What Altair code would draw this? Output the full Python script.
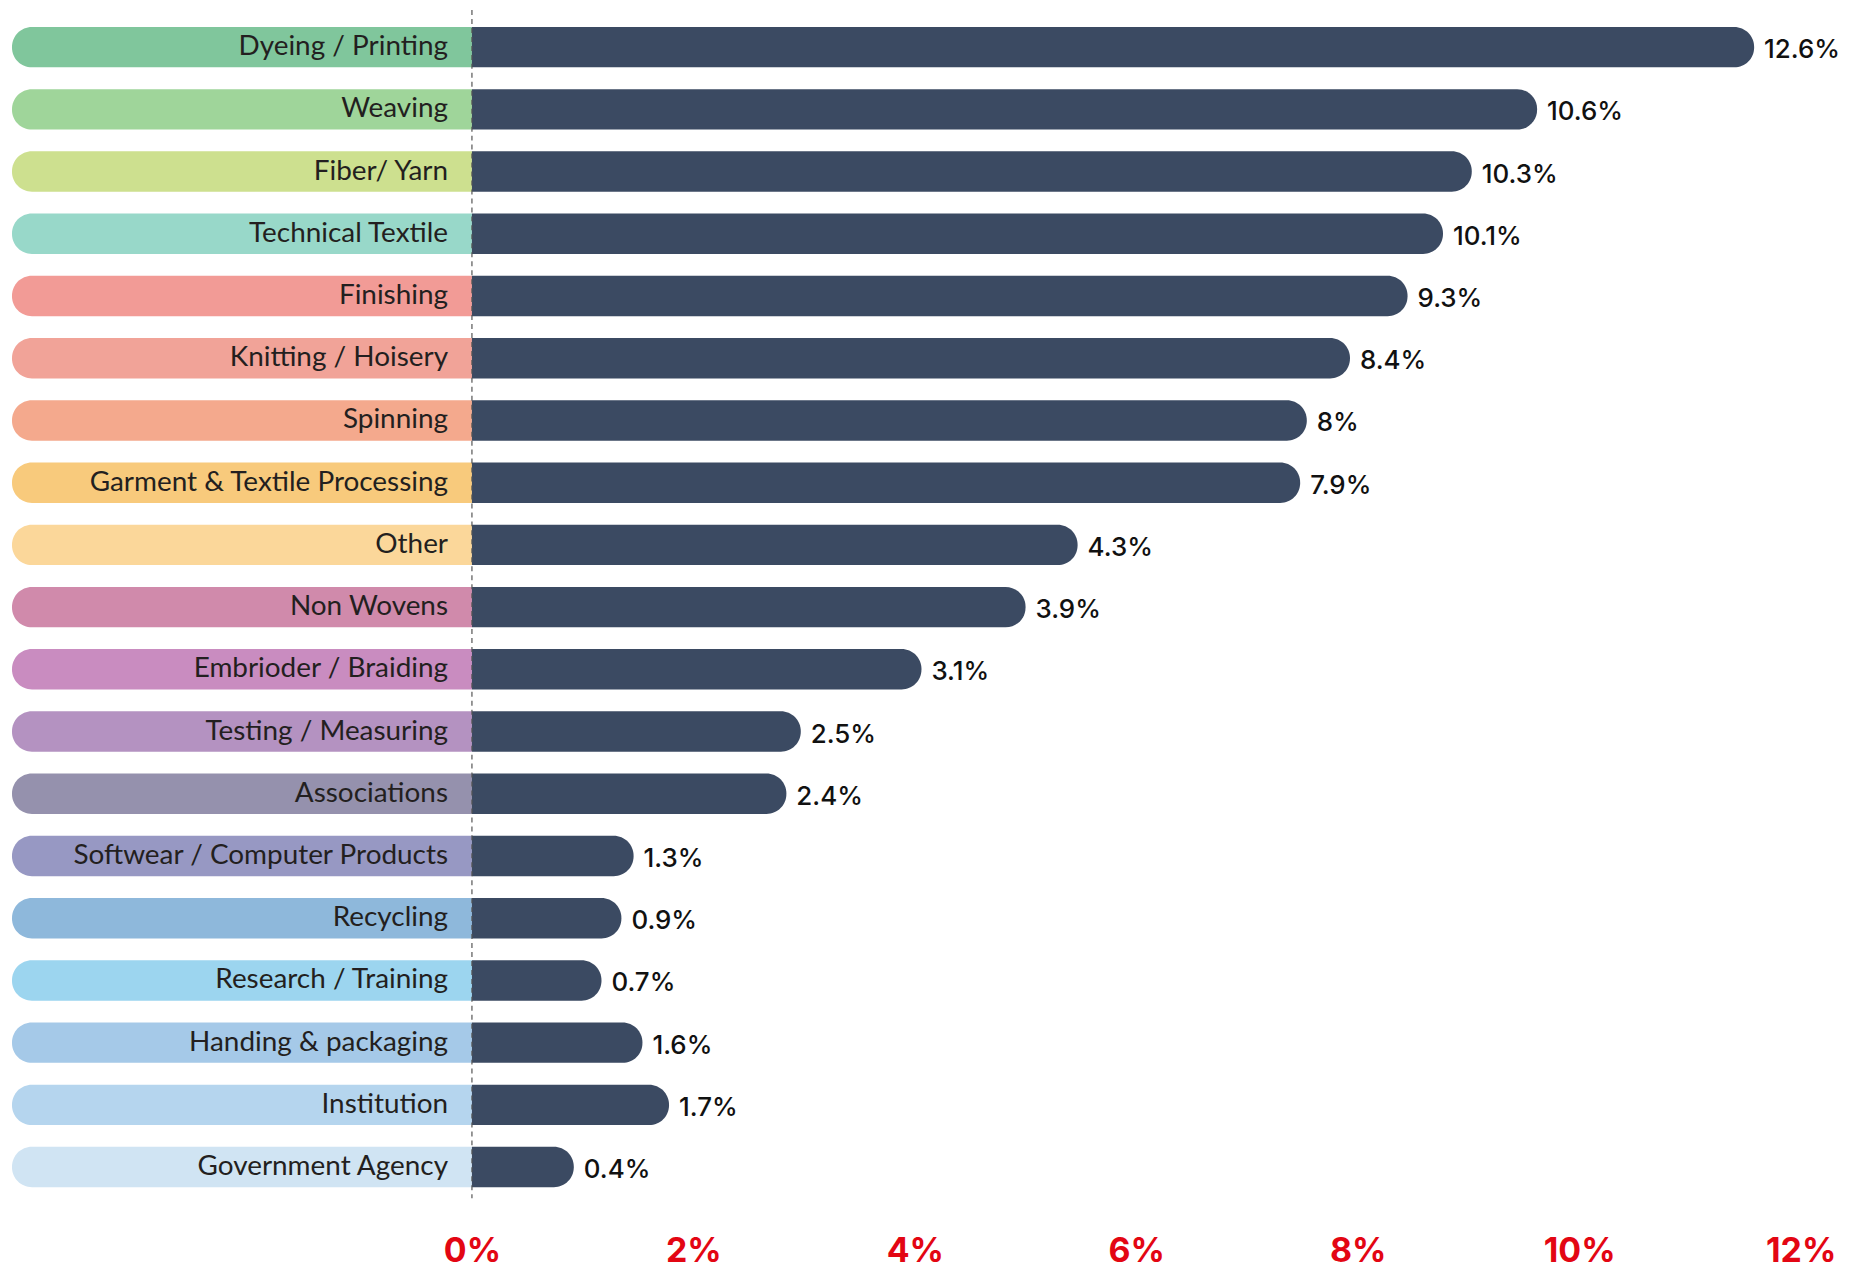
import altair as alt
import pandas as pd

categories = [
    "Dyeing / Printing", "Weaving", "Fiber/ Yarn", "Technical Textile", "Finishing",
    "Knitting / Hoisery", "Spinning", "Garment & Textile Processing", "Other",
    "Non Wovens", "Embrioder / Braiding", "Testing / Measuring", "Associations",
    "Softwear / Computer Products", "Recycling", "Research / Training",
    "Handing & packaging", "Institution", "Government Agency",
]
# printed share of each category (the value labels)
shares = [12.6, 10.6, 10.3, 10.1, 9.3, 8.4, 8, 7.9, 4.3, 3.9, 3.1, 2.5, 2.4,
          1.3, 0.9, 0.7, 1.6, 1.7, 0.4]
# drawn bar lengths, read against the chart's own percent axis
bar_lengths = [11.58, 9.62, 9.03, 8.77, 8.45, 7.93, 7.54, 7.48, 5.47, 5.00,
               4.06, 2.97, 2.84, 1.46, 1.35, 1.17, 1.54, 1.78, 0.92]
pill_colors = [
    "#80c69c", "#9fd59a", "#cde08f", "#98d8c9", "#f29b96", "#f1a398", "#f4a98d",
    "#f8ca7c", "#fbd79a", "#d08aab", "#c98cc0", "#b492c1", "#9591ad", "#9798c3",
    "#8eb8db", "#9cd5ef", "#a5c9e8", "#b5d5ee", "#d0e4f3",
]
x_ticks = [0, 2, 4, 6, 8, 10, 12]

df = pd.DataFrame({
    "category": categories,
    "share": shares,
    "length": bar_lengths,
    "color": pill_colors,
    "label": [f"{s:g}%" for s in shares],
})

W, H = 1850, 1186
X_MIN, X_MAX = -4.154, 12.5
BAR_DARK = "#3b4a62"
R = 20

xscale = alt.Scale(domain=[X_MIN, X_MAX], nice=False, zero=False)
xaxis = alt.Axis(values=x_ticks, labelExpr="datum.value + '%'", domain=False,
                 ticks=False, grid=False, labelFont="Inter", labelFontSize=34,
                 labelFontWeight="bold", labelColor="#e30613", labelPadding=54,
                 labelBaseline="middle", title="")
y = alt.Y("category:N", sort=categories, axis=None,
          scale=alt.Scale(paddingInner=0.35, paddingOuter=0.175))

base = alt.Chart(df).transform_calculate(pill_start=str(X_MIN), zero="0")

pills = base.mark_bar(cornerRadiusTopLeft=R, cornerRadiusBottomLeft=R).encode(
    x=alt.X("pill_start:Q", scale=xscale, axis=xaxis),
    x2="zero:Q",
    y=y,
    color=alt.Color("color:N", scale=None),
)

bars = base.mark_bar(color=BAR_DARK, cornerRadiusTopRight=R,
                     cornerRadiusBottomRight=R).encode(
    x=alt.X("zero:Q", scale=xscale, axis=xaxis),
    x2="length:Q",
    y=y,
)

cat_text = base.mark_text(align="right", baseline="middle", dx=-24, dy=0,
                          font="Lato", fontSize=28, color="#231f20").encode(
    x=alt.X("zero:Q", scale=xscale, axis=xaxis),
    y=y,
    text="category:N",
)

val_text = base.mark_text(align="left", baseline="middle", dx=10, dy=3,
                          font="Inter", fontSize=26, fontWeight=500,
                          color="#111111").encode(
    x=alt.X("length:Q", scale=xscale, axis=xaxis),
    y=y,
    text="label:N",
)

zero_rule = alt.Chart(pd.DataFrame({"v": [0]})).mark_rule(
    color="#555555", strokeDash=[5, 4], strokeWidth=1.2).encode(
    x=alt.X("v:Q", scale=xscale, axis=xaxis),
    y=alt.value(-6),
    y2=alt.value(H),
)

chart = alt.layer(pills, bars, cat_text, val_text, zero_rule).properties(
    width=W, height=H,
    background="white",
    autosize=alt.AutoSizeParams(type="none"),
    padding={"left": 4, "top": 6, "right": 0, "bottom": 74},
).configure_view(stroke=None, strokeWidth=0)

chart.save("out.html", embed_options={"renderer": "svg", "actions": False})
